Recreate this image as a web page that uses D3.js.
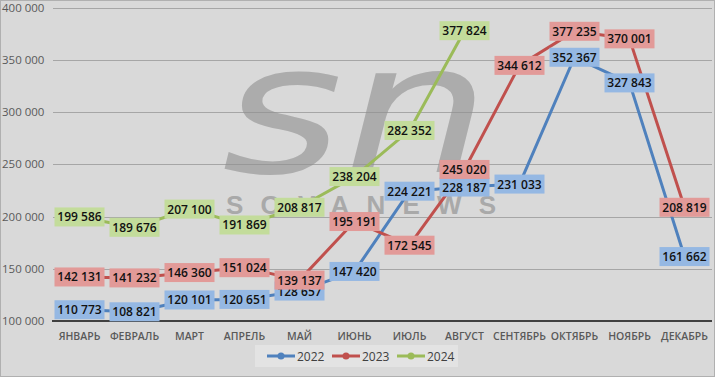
<!DOCTYPE html>
<html>
<head>
<meta charset="utf-8">
<script src="https://cdn.jsdelivr.net/npm/d3@7"></script>
<style>
  body { margin: 0; background: #d9d9d9; }
  svg { display: block; }
</style>
</head>
<body>
<script>
const months = ["ЯНВАРЬ", "ФЕВРАЛЬ", "МАРТ", "АПРЕЛЬ", "МАЙ", "ИЮНЬ", "ИЮЛЬ", "АВГУСТ", "СЕНТЯБРЬ", "ОКТЯБРЬ", "НОЯБРЬ", "ДЕКАБРЬ"];
const years = ["2022", "2023", "2024"];
const values2022 = [110773, 108821, 120101, 120651, 128657, 147420, 224221, 228187, 231033, 352367, 327843, 161662];
const values2023 = [142131, 141232, 146360, 151024, 139137, 195191, 172545, 245020, 344612, 377235, 370001, 208819];
const values2024 = [199586, 189676, 207100, 191869, 208817, 238204, 282352, 377824];
const yTicks = [100000, 150000, 200000, 250000, 300000, 350000, 400000];

function main() {
    const width = 715, height = 377;
    const lineColors = ["#4f81bd", "#c0504d", "#9bbb59"];
    const boxColors = ["#95b8e3", "#e29a98", "#c3dc9b"];

    const svg = d3.select("body").append("svg")
        .attr("width", width)
        .attr("height", height);

    svg.append("rect")
        .attr("x", 0.5).attr("y", 0.5)
        .attr("width", width - 1).attr("height", height - 1)
        .attr("fill", "#d9d9d9")
        .attr("stroke", "#b0b0b0");

    const x = d3.scaleBand().domain(months).range([52, 712]);
    const y = d3.scaleLinear().domain([100000, 400000]).range([321, 7.5]);

    // gridlines + y labels
    svg.append("g").selectAll("line")
        .data(yTicks.slice(1))
        .join("line")
        .attr("x1", 53).attr("x2", 712)
        .attr("y1", d => Math.round(y(d)) + 0.5)
        .attr("y2", d => Math.round(y(d)) + 0.5)
        .attr("stroke", "#a6a6a6");

    const fmt = d => d3.format(",")(d).replace(/,/g, " ");

    svg.append("g").selectAll("text")
        .data(yTicks)
        .join("text")
        .attr("x", 2)
        .attr("y", d => y(d) + 4)
        .attr("font-family", "Open Sans, sans-serif")
        .attr("font-size", "11.5px")
        .attr("fill", "#595959")
        .text(fmt);

    // watermark
    const wm = svg.append("g").attr("opacity", 0.6);
    wm.append("text")
        .attr("x", 222).attr("y", 172)
        .attr("font-family", "DejaVu Sans, sans-serif")
        .attr("font-style", "italic")
        .attr("font-size", "180px")
        .attr("textLength", 268)
        .attr("lengthAdjust", "spacingAndGlyphs")
        .attr("fill", "#8f8f8f")
        .text("sn");
    wm.append("text")
        .attr("x", 226).attr("y", 214)
        .attr("font-family", "Liberation Sans, sans-serif")
        .attr("font-weight", "bold")
        .attr("font-size", "26px")
        .attr("textLength", 270)
        .attr("lengthAdjust", "spacing")
        .attr("fill", "#8a8a8a")
        .text("SOVANEWS");

    // axis line
    svg.append("line")
        .attr("x1", 52).attr("x2", 712)
        .attr("y1", 321).attr("y2", 321)
        .attr("stroke", "#404040")
        .attr("stroke-width", 2);

    svg.append("g").selectAll("text")
        .data(months)
        .join("text")
        .attr("x", d => x(d) + x.bandwidth() / 2)
        .attr("y", 340)
        .attr("text-anchor", "middle")
        .attr("font-family", "Open Sans, sans-serif")
        .attr("font-weight", "600")
        .attr("font-size", "10.5px")
        .attr("fill", "#595959")
        .text(d => d);

    const series = [values2022, values2023, values2024].map((vals, i) => ({
        name: years[i],
        color: lineColors[i],
        box: boxColors[i],
        points: vals.map((v, j) => ({ month: months[j], value: v }))
    }));

    const line = d3.line()
        .x(d => x(d.month) + x.bandwidth() / 2)
        .y(d => y(d.value));

    series.forEach(s => {
        svg.append("path")
            .datum(s.points)
            .attr("fill", "none")
            .attr("stroke", s.color)
            .attr("stroke-width", 3)
            .attr("stroke-linejoin", "round")
            .attr("d", line);
        svg.append("g").selectAll("circle")
            .data(s.points)
            .join("circle")
            .attr("cx", d => x(d.month) + x.bandwidth() / 2)
            .attr("cy", d => y(d.value))
            .attr("r", 8.5)
            .attr("fill", s.color);
    });

    // data labels
    series.forEach(s => {
        const g = svg.append("g").selectAll("g")
            .data(s.points)
            .join("g")
            .attr("transform", d => "translate(" + (x(d.month) + x.bandwidth() / 2) + "," + y(d.value) + ")");
        g.append("rect")
            .attr("x", -25).attr("y", -9.5)
            .attr("width", 50).attr("height", 19)
            .attr("fill", s.box);
        g.append("text")
            .attr("y", 4.5)
            .attr("text-anchor", "middle")
            .attr("font-family", "Open Sans, sans-serif")
            .attr("font-weight", "600")
            .attr("font-size", "12px")
            .attr("fill", "#111")
            .text(d => fmt(d.value));
    });

    // legend
    const legend = svg.append("g");
    legend.append("rect")
        .attr("x", 255).attr("y", 345)
        .attr("width", 203).attr("height", 22)
        .attr("fill", "#e3e3e3");
    const items = legend.selectAll("g")
        .data(series)
        .join("g")
        .attr("transform", (d, i) => "translate(" + (267 + i * 65) + ",356)");
    items.append("line")
        .attr("x1", 0).attr("x2", 28)
        .attr("stroke", d => d.color)
        .attr("stroke-width", 3);
    items.append("circle")
        .attr("cx", 14).attr("r", 3.5)
        .attr("fill", d => d.color);
    items.append("text")
        .attr("x", 30).attr("y", 4.5)
        .attr("font-family", "Open Sans, sans-serif")
        .attr("font-size", "12px")
        .attr("fill", "#404040")
        .text(d => d.name);
}
main();
</script>
</body>
</html>
